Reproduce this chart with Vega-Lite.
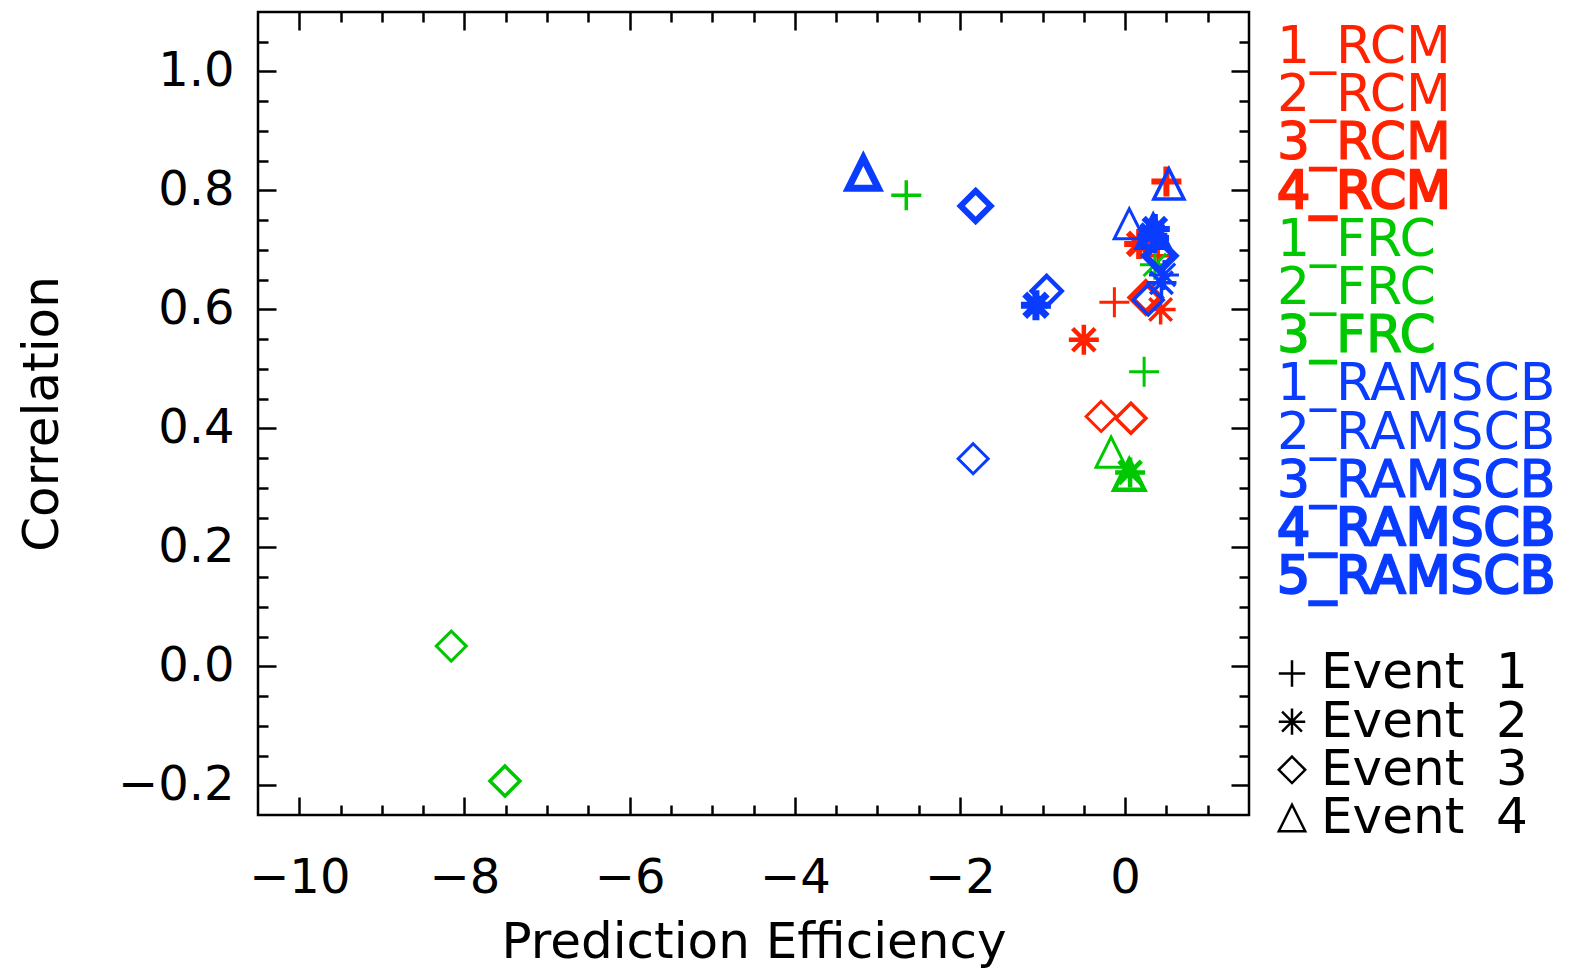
{
  "$schema": "https://vega.github.io/schema/vega-lite/v6.json",
  "background": "white",
  "padding": {"left": 16, "top": 9, "right": 5, "bottom": 5},
  "config": {
    "view": {"stroke": "black", "strokeWidth": 2.5},
    "font": "DejaVu Sans",
    "axis": {
      "labelFont": "DejaVu Sans", "titleFont": "DejaVu Sans",
      "labelColor": "black", "titleColor": "black", "tickColor": "black",
      "tickWidth": 2.5, "domain": false, "grid": false,
      "titleFontWeight": "normal", "labelFontSize": 48, "titleFontSize": 50
    }
  },
  "datasets": {
    "points": [
      {"model": "1_RCM", "event": "1", "pe": -0.13, "corr": 0.612},
      {"model": "2_RCM", "event": "1", "pe": 0.40, "corr": 0.69},
      {"model": "4_RCM", "event": "1", "pe": 0.50, "corr": 0.815},
      {"model": "3_RCM", "event": "2", "pe": -0.50, "corr": 0.549},
      {"model": "2_RCM", "event": "2", "pe": 0.43, "corr": 0.60},
      {"model": "4_RCM", "event": "2", "pe": 0.17, "corr": 0.71},
      {"model": "1_RCM", "event": "3", "pe": -0.29, "corr": 0.42},
      {"model": "2_RCM", "event": "3", "pe": 0.07, "corr": 0.417},
      {"model": "4_RCM", "event": "3", "pe": 0.25, "corr": 0.62},
      {"model": "1_FRC", "event": "1", "pe": 0.23, "corr": 0.495},
      {"model": "2_FRC", "event": "1", "pe": -2.65, "corr": 0.792},
      {"model": "1_FRC", "event": "2", "pe": 0.36, "corr": 0.675},
      {"model": "3_FRC", "event": "2", "pe": 0.06, "corr": 0.326},
      {"model": "1_FRC", "event": "3", "pe": -8.16, "corr": 0.034},
      {"model": "2_FRC", "event": "3", "pe": -7.51, "corr": -0.193},
      {"model": "1_FRC", "event": "4", "pe": -0.17, "corr": 0.36},
      {"model": "3_FRC", "event": "4", "pe": 0.05, "corr": 0.322},
      {"model": "1_RAMSCB", "event": "2", "pe": 0.47, "corr": 0.658},
      {"model": "2_RAMSCB", "event": "2", "pe": 0.44, "corr": 0.645},
      {"model": "3_RAMSCB", "event": "2", "pe": 0.33, "corr": 0.725},
      {"model": "5_RAMSCB", "event": "2", "pe": -1.08, "corr": 0.607},
      {"model": "4_RAMSCB", "event": "2", "pe": 0.36, "corr": 0.735},
      {"model": "5_RAMSCB", "event": "3", "pe": 0.42, "corr": 0.69},
      {"model": "1_RAMSCB", "event": "3", "pe": -1.84, "corr": 0.349},
      {"model": "4_RAMSCB", "event": "3", "pe": -1.81, "corr": 0.774},
      {"model": "3_RAMSCB", "event": "3", "pe": -0.95, "corr": 0.631},
      {"model": "2_RAMSCB", "event": "3", "pe": 0.28, "corr": 0.616},
      {"model": "1_RAMSCB", "event": "4", "pe": 0.05, "corr": 0.744},
      {"model": "2_RAMSCB", "event": "4", "pe": 0.53, "corr": 0.811},
      {"model": "4_RAMSCB", "event": "4", "pe": 0.34, "corr": 0.73},
      {"model": "5_RAMSCB", "event": "4", "pe": -3.17, "corr": 0.829},
      {"model": "4_RAMSCB", "event": "1", "pe": 0.35, "corr": 0.72}
    ],
    "models": [
      {"item": "1_RCM"}, {"item": "2_RCM"}, {"item": "3_RCM"}, {"item": "4_RCM"},
      {"item": "1_FRC"}, {"item": "2_FRC"}, {"item": "3_FRC"},
      {"item": "1_RAMSCB"}, {"item": "2_RAMSCB"}, {"item": "3_RAMSCB"}, {"item": "4_RAMSCB"}, {"item": "5_RAMSCB"}
    ],
    "events": [
      {"item": "Event\u00a0\u00a01", "event": "1"},
      {"item": "Event\u00a0\u00a02", "event": "2"},
      {"item": "Event\u00a0\u00a03", "event": "3"},
      {"item": "Event\u00a0\u00a04", "event": "4"}
    ]
  },
  "spacing": 20,
  "hconcat": [
    {
      "width": 991,
      "height": 803,
      "data": {"name": "points"},
      "resolve": {"axis": {"x": "independent", "y": "independent"}},
      "layer": [
        {
          "mark": {"type": "point", "filled": false, "opacity": 1, "size": 900},
          "encoding": {
            "x": {"field": "pe", "type": "quantitative",
              "scale": {"domain": [-10.5, 1.5], "nice": false, "zero": false},
              "axis": {"orient": "bottom", "values": [-10, -8, -6, -4, -2, 0], "format": "d", "tickSize": -18, "labelPadding": 57, "title": "Prediction Efficiency", "titlePadding": 15}},
            "y": {"field": "corr", "type": "quantitative",
              "scale": {"domain": [-0.25, 1.1], "nice": false, "zero": false},
              "axis": {"orient": "left", "values": [-0.2, 0, 0.2, 0.4, 0.6, 0.8, 1.0], "format": ".1f", "tickSize": -18, "labelPadding": 42, "title": "Correlation", "titlePadding": 50}},
            "color": {"field": "model", "type": "nominal", "legend": null,
              "scale": {"domain": ["1_RCM", "2_RCM", "3_RCM", "4_RCM", "1_FRC", "2_FRC", "3_FRC", "1_RAMSCB", "2_RAMSCB", "3_RAMSCB", "4_RAMSCB", "5_RAMSCB"],
                "range": ["#ff2200", "#ff2200", "#ff2200", "#ff2200", "#00c800", "#00c800", "#00c800", "#0a3cff", "#0a3cff", "#0a3cff", "#0a3cff", "#0a3cff"]}},
            "strokeWidth": {
              "condition": [
                {"test": "indexof(datum.model, '5_') === 0", "value": 7},
                {"test": "indexof(datum.model, '4_') === 0", "value": 6},
                {"test": "indexof(datum.model, '3_') === 0", "value": 4.5},
                {"test": "indexof(datum.model, '2_') === 0", "value": 3.5}
              ],
              "value": 3},
            "shape": {"field": "event", "type": "nominal", "legend": null,
              "scale": {"domain": ["1", "2", "3", "4"],
                "range": ["M-1,0L1,0M0,-1L0,1", "M-1,0L1,0M0,-1L0,1M-0.75,-0.75L0.75,0.75M-0.75,0.75L0.75,-0.75", "M0,-1L1,0L0,1L-1,0Z", "M-1,1L0,-1L1,1Z"]}}
          }
        },
        {
          "mark": {"type": "point", "opacity": 0},
          "encoding": {
            "x": {"field": "pe", "type": "quantitative",
              "scale": {"domain": [-10.5, 1.5], "nice": false, "zero": false},
              "axis": {"orient": "bottom", "values": [-9.5, -9, -8.5, -7.5, -7, -6.5, -5.5, -5, -4.5, -3.5, -3, -2.5, -1.5, -1, -0.5, 0.5, 1], "tickSize": -10, "labels": false, "title": null}},
            "y": {"field": "corr", "type": "quantitative",
              "scale": {"domain": [-0.25, 1.1], "nice": false, "zero": false},
              "axis": {"orient": "left", "values": [-0.15, -0.1, -0.05, 0.05, 0.1, 0.15, 0.25, 0.3, 0.35, 0.45, 0.5, 0.55, 0.65, 0.7, 0.75, 0.85, 0.9, 0.95, 1.05], "tickSize": -10, "labels": false, "title": null}}
          }
        },
        {
          "mark": {"type": "point", "opacity": 0},
          "encoding": {
            "x": {"field": "pe", "type": "quantitative",
              "scale": {"domain": [-10.5, 1.5], "nice": false, "zero": false},
              "axis": {"orient": "top", "values": [-10, -8, -6, -4, -2, 0], "tickSize": -18, "labels": false, "title": null}},
            "y": {"field": "corr", "type": "quantitative",
              "scale": {"domain": [-0.25, 1.1], "nice": false, "zero": false},
              "axis": {"orient": "right", "values": [-0.2, 0, 0.2, 0.4, 0.6, 0.8, 1.0], "tickSize": -18, "labels": false, "title": null}}
          }
        },
        {
          "mark": {"type": "point", "opacity": 0},
          "encoding": {
            "x": {"field": "pe", "type": "quantitative",
              "scale": {"domain": [-10.5, 1.5], "nice": false, "zero": false},
              "axis": {"orient": "top", "values": [-9.5, -9, -8.5, -7.5, -7, -6.5, -5.5, -5, -4.5, -3.5, -3, -2.5, -1.5, -1, -0.5, 0.5, 1], "tickSize": -10, "labels": false, "title": null}},
            "y": {"field": "corr", "type": "quantitative",
              "scale": {"domain": [-0.25, 1.1], "nice": false, "zero": false},
              "axis": {"orient": "right", "values": [-0.15, -0.1, -0.05, 0.05, 0.1, 0.15, 0.25, 0.3, 0.35, 0.45, 0.5, 0.55, 0.65, 0.7, 0.75, 0.85, 0.9, 0.95, 1.05], "tickSize": -10, "labels": false, "title": null}}
          }
        }
      ]
    },
    {
      "width": 40,
      "height": 841,
      "view": {"stroke": null},
      "encoding": {
        "y": {"field": "item", "type": "nominal", "axis": null,
          "scale": {"type": "point", "padding": 0.726,
            "domain": ["1_RCM", "2_RCM", "3_RCM", "4_RCM", "1_FRC", "2_FRC", "3_FRC", "1_RAMSCB", "2_RAMSCB", "3_RAMSCB", "4_RAMSCB", "5_RAMSCB", " ", "Event\u00a0\u00a01", "Event\u00a0\u00a02", "Event\u00a0\u00a03", "Event\u00a0\u00a04"]}}
      },
      "layer": [
        {
          "data": {"name": "models"},
          "mark": {"type": "text", "align": "left", "baseline": "middle", "dx": -15, "font": "DejaVu Sans", "fontSize": 52},
          "encoding": {
            "text": {"field": "item"},
            "color": {"field": "item", "type": "nominal", "legend": null,
              "scale": {"domain": ["1_RCM", "2_RCM", "3_RCM", "4_RCM", "1_FRC", "2_FRC", "3_FRC", "1_RAMSCB", "2_RAMSCB", "3_RAMSCB", "4_RAMSCB", "5_RAMSCB"],
                "range": ["#ff2200", "#ff2200", "#ff2200", "#ff2200", "#00c800", "#00c800", "#00c800", "#0a3cff", "#0a3cff", "#0a3cff", "#0a3cff", "#0a3cff"]}},
            "stroke": {"field": "item", "type": "nominal", "legend": null,
              "scale": {"domain": ["1_RCM", "2_RCM", "3_RCM", "4_RCM", "1_FRC", "2_FRC", "3_FRC", "1_RAMSCB", "2_RAMSCB", "3_RAMSCB", "4_RAMSCB", "5_RAMSCB"],
                "range": ["#ff2200", "#ff2200", "#ff2200", "#ff2200", "#00c800", "#00c800", "#00c800", "#0a3cff", "#0a3cff", "#0a3cff", "#0a3cff", "#0a3cff"]}},
            "strokeWidth": {
              "condition": [
                {"test": "indexof(datum.item, '5_') === 0", "value": 2.5},
                {"test": "indexof(datum.item, '4_') === 0", "value": 2.5},
                {"test": "indexof(datum.item, '3_') === 0", "value": 1.2}
              ],
              "value": 0}
          }
        },
        {
          "data": {"name": "events"},
          "mark": {"type": "text", "align": "left", "baseline": "middle", "dx": 29, "font": "DejaVu Sans", "fontSize": 50, "color": "black"},
          "encoding": {"text": {"field": "item"}}
        },
        {
          "data": {"name": "events"},
          "mark": {"type": "point", "filled": false, "opacity": 1, "size": 700, "color": "black", "strokeWidth": 2.5},
          "encoding": {
            "shape": {"field": "event", "type": "nominal", "legend": null,
              "scale": {"domain": ["1", "2", "3", "4"],
                "range": ["M-1,0L1,0M0,-1L0,1", "M-1,0L1,0M0,-1L0,1M-0.75,-0.75L0.75,0.75M-0.75,0.75L0.75,-0.75", "M0,-1L1,0L0,1L-1,0Z", "M-1,1L0,-1L1,1Z"]}}
          }
        }
      ]
    }
  ]
}
